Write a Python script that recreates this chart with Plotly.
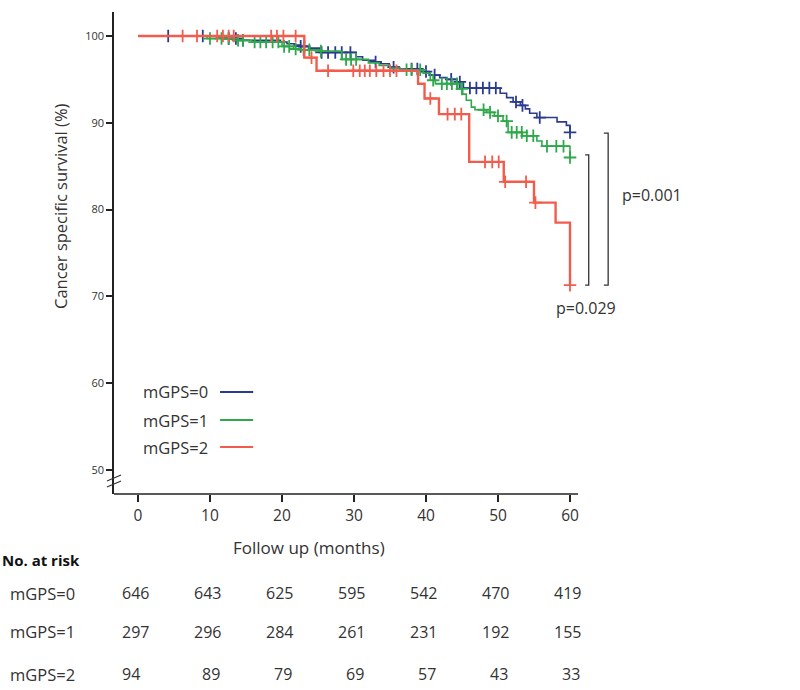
import numpy as np
import plotly.graph_objects as go

# ---------------- data ----------------
groups = ["mGPS=0", "mGPS=1", "mGPS=2"]
colors = ["#2b3c8f", "#2fa84b", "#f25c4d"]

times0 = [0, 10.9, 12.3, 14.3, 19.8, 20.7, 21.7, 22.4, 23.7, 25.2, 30.3, 31.2, 32.8, 33.7,
          34.9, 36.3, 39.3, 40.5, 41.9, 42.9, 44.3, 45.2, 50.3, 51.2, 52.1, 53.1, 53.8, 54.4,
          55.4, 58.2, 59.5, 60.0]
surv0 = [100, 99.9, 99.7, 99.5, 99.3, 99.1, 98.95, 98.8, 98.6, 98.1, 97.6, 97.2, 97.0, 96.8,
         96.4, 96.2, 95.9, 95.5, 95.2, 95.0, 94.7, 94.0, 93.4, 92.9, 92.4, 92.0, 91.6, 91.1,
         90.6, 90.1, 89.7, 88.9]
cens0 = [4.2, 9.0, 12.6, 13.6, 14.6, 22.6, 23.1, 25.5, 26.4, 27.4, 28.3, 29.5, 33.0, 35.5,
         38.0, 38.8, 40.0, 41.2, 43.5, 44.7, 46.1, 47.0, 47.9, 48.8, 49.7, 52.5, 53.4, 55.8, 60.0]

times1 = [0, 9.6, 13.9, 15.8, 20.0, 21.6, 22.6, 25.4, 28.3, 32.0, 33.5, 35.0, 36.4, 39.6,
          40.6, 41.3, 44.4, 45.1, 45.6, 46.3, 46.8, 48.4, 49.5, 50.7, 51.4, 53.4, 55.4, 56.1, 60.0]
surv1 = [100, 99.7, 99.5, 99.3, 98.8, 98.5, 98.4, 98.25, 97.3, 96.9, 96.6, 96.3, 96.1, 95.7,
         94.9, 94.5, 93.9, 93.3, 92.6, 91.8, 91.5, 91.2, 90.8, 90.2, 88.9, 88.5, 87.9, 87.3, 86.0]
cens1 = [10.0, 11.6, 12.6, 13.9, 14.6, 16.2, 17.0, 17.8, 18.7, 19.5, 20.3, 21.0, 21.9, 23.0,
         23.8, 25.4, 28.9, 29.6, 30.3, 37.3, 38.0, 39.2, 41.0, 42.2, 42.9, 43.6, 44.3, 45.0,
         48.0, 48.9, 50.0, 51.2, 51.9, 52.6, 53.3, 54.0, 54.9, 56.8, 58.1, 59.1, 60.0]

times2 = [0, 23.1, 24.8, 38.9, 39.8, 41.8, 46.0, 50.8, 55.0, 58.0, 60.0]
surv2 = [100, 97.5, 96.0, 94.5, 92.8, 91.0, 85.5, 83.2, 80.8, 78.5, 71.3]
cens2 = [6.2, 8.2, 11.0, 11.8, 12.6, 13.3, 18.5, 19.3, 20.2, 21.9, 24.1, 26.4, 29.9, 30.8,
         31.5, 32.2, 33.1, 34.1, 35.0, 35.9, 40.6, 43.0, 44.0, 44.9, 48.2, 49.2, 50.1, 51.0,
         53.9, 55.2, 60.0]

risk_times = [0, 10, 20, 30, 40, 50, 60]
risk0 = [646, 643, 625, 595, 542, 470, 419]
risk1 = [297, 296, 284, 261, 231, 192, 155]
risk2 = [94, 89, 79, 69, 57, 43, 33]

p_values = ["p=0.029", "p=0.001"]

x_ticks = [0, 10, 20, 30, 40, 50, 60]
y_ticks = [50, 60, 70, 80, 90, 100]

# ---------------- layout geometry ----------------
W_FIG, H_FIG = 800, 690
L, R, T, B = 114, 158, 12, 196
PW = W_FIG - L - R
PH = H_FIG - T - B
XR = [-3.33, 70]
YR = [47.24, 102.76]


def px_x(px):
    return (px - L) / PW


def px_y(py):
    return (H_FIG - B - py) / PH


def step_at(times, surv, t):
    idx = np.searchsorted(np.array(times), t, side="right") - 1
    return surv[max(idx, 0)]


series = [(times0, surv0, cens0), (times1, surv1, cens1), (times2, surv2, cens2)]
widths = [1.6, 1.6, 2.4]

fig = go.Figure()
for (tt, ss, cc), col, name, w in zip(series, colors, groups, widths):
    fig.add_trace(go.Scatter(x=tt, y=ss, mode="lines", line=dict(color=col, width=w, shape="hv"),
                             name=name, showlegend=False, hoverinfo="skip"))
    cy = [step_at(tt, ss, c) for c in cc]
    fig.add_trace(go.Scatter(x=cc, y=cy, mode="markers",
                             marker=dict(symbol="cross-thin", size=9, line=dict(color=col, width=1.8)),
                             showlegend=False, hoverinfo="skip"))

font_main = "Open Sans, Noto Sans, sans-serif"
txt_col = "#333333"
shapes = []
ann = []

# x axis line (shortened like the original)
shapes.append(dict(type="line", xref="paper", yref="paper", x0=0, x1=px_x(578), y0=0, y1=0,
                   line=dict(color="#222", width=1.6)))
# axis break marks
for dy in (0, 6):
    shapes.append(dict(type="line", xref="paper", yref="paper",
                       x0=px_x(107), x1=px_x(121), y0=px_y(481 + dy), y1=px_y(475 + dy),
                       line=dict(color="#333", width=1.2)))

# legend drawn manually (text then line)
leg_y = [58.99, 55.76, 52.65]
for name, col, yy in zip(groups, colors, leg_y):
    ann.append(dict(x=10.0, y=yy, xref="x", yref="y", text=name, showarrow=False,
                    xanchor="right", yanchor="middle", font=dict(size=16.5, color=txt_col, family=font_main)))
    shapes.append(dict(type="line", xref="x", yref="y", x0=11.4, x1=16.0, y0=yy, y1=yy,
                       line=dict(color=col, width=2)))

# p-value brackets
bottom = surv2[-1]
br = [(62.6, 62.1, surv1[-1] + 0.3, p_values[0]), (65.3, 64.7, surv0[-1] - 0.1, p_values[1])]
for xv, xt, top, _ in br:
    shapes.append(dict(type="path", xref="x", yref="y",
                       path=f"M {xt},{top} L {xv},{top} L {xv},{bottom} L {xt},{bottom}",
                       line=dict(color="#333", width=1.3)))
ann.append(dict(x=62.2, y=bottom - 1.1, xref="x", yref="y", text=p_values[0], showarrow=False,
                xanchor="center", yanchor="top", font=dict(size=16, color=txt_col, family=font_main)))
ann.append(dict(x=66.9, y=(surv0[-1] + bottom) / 2 + 1.6, xref="x", yref="y", text=p_values[1],
                showarrow=False, xanchor="left", yanchor="middle",
                font=dict(size=16, color=txt_col, family=font_main)))

# axis titles
ann.append(dict(x=px_x(60), y=px_y(206), xref="paper", yref="paper", text="Cancer specific survival (%)",
                textangle=-90, showarrow=False, xanchor="center", yanchor="middle",
                font=dict(size=16.5, color=txt_col, family=font_main)))
ann.append(dict(x=px_x(309), y=px_y(547), xref="paper", yref="paper", text="Follow up (months)",
                showarrow=False, xanchor="center", yanchor="middle",
                font=dict(size=17, color=txt_col, family=font_main)))

# risk table
ann.append(dict(x=px_x(0), y=px_y(560), xref="paper", yref="paper", text="<b>No. at risk</b>",
                showarrow=False, xanchor="left", yanchor="middle",
                font=dict(size=15, color="#111", family=font_main)))
row_py = [593, 632, 674]
for name, row, py in zip(groups, [risk0, risk1, risk2], row_py):
    ann.append(dict(x=px_x(8), y=px_y(py), xref="paper", yref="paper", text=name, showarrow=False,
                    xanchor="left", yanchor="middle", font=dict(size=16.5, color=txt_col, family=font_main)))
    for i, (t, v) in enumerate(zip(risk_times, row)):
        if v >= 100:
            xa, xv = "center", t - 0.3
        elif i == 0:
            xa, xv = "left", t - 2.5
        else:
            xa, xv = "right", t + 1.6
        ann.append(dict(x=xv, y=px_y(py), xref="x", yref="paper", text=str(v), showarrow=False,
                        xanchor=xa, yanchor="middle", font=dict(size=16, color=txt_col, family=font_main)))

fig.update_layout(
    width=W_FIG, height=H_FIG,
    margin=dict(l=L, r=R, t=T, b=B),
    paper_bgcolor="white", plot_bgcolor="white",
    showlegend=False,
    xaxis=dict(range=XR, tickvals=x_ticks, ticktext=[str(v) for v in x_ticks], ticks="outside",
               ticklen=7, tickwidth=2, tickcolor="#222", showline=False, showgrid=False, zeroline=False,
               tickfont=dict(size=15.5, color=txt_col, family=font_main)),
    yaxis=dict(range=YR, tickvals=y_ticks, ticktext=[str(v) for v in y_ticks], ticks="outside",
               ticklen=6, tickwidth=2, tickcolor="#222", showline=True, linecolor="#222", linewidth=1.6,
               showgrid=False, zeroline=False,
               tickfont=dict(size=11, color="#333", family=font_main)),
    shapes=shapes, annotations=ann,
)

fig.write_html("out.html", config={"displayModeBar": False},
               post_script="document.body.style.margin='0';document.body.style.padding='0';"
                           "document.body.style.overflow='hidden';")
